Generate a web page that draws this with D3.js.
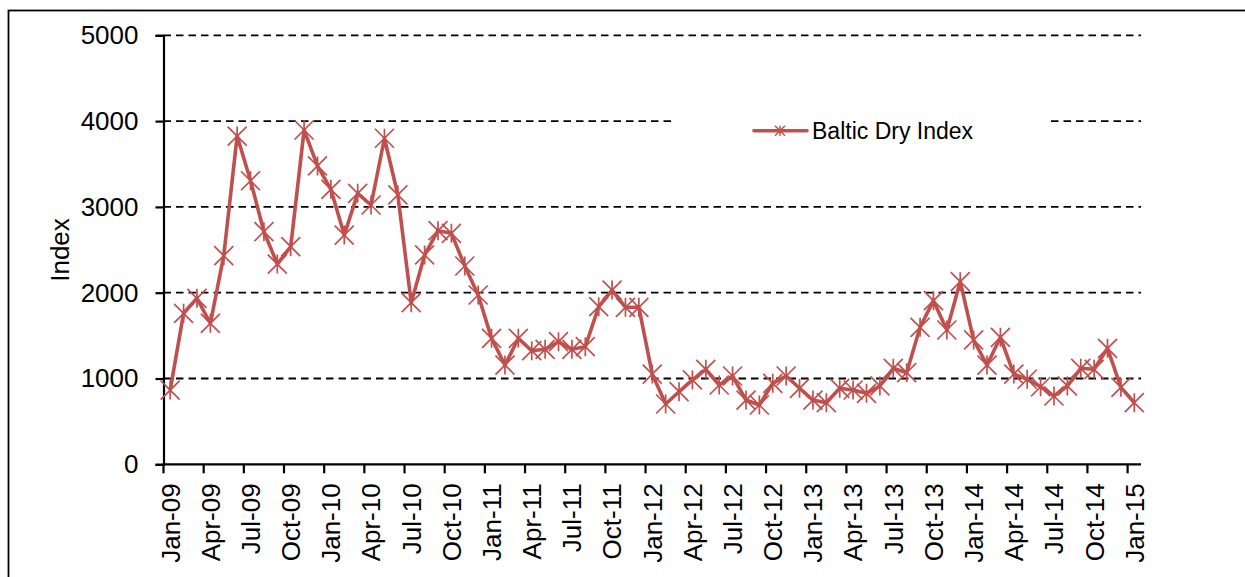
<!DOCTYPE html>
<html>
<head>
<meta charset="utf-8">
<script src="https://cdnjs.cloudflare.com/ajax/libs/d3/7.8.4/d3.min.js"></script>
<style>
  body { margin: 0; background: #fff; }
  svg text { font-family: "Liberation Sans", Arial, sans-serif; fill: #000; }
</style>
</head>
<body>
<div id="chart"></div>
<script>
// monthly Baltic Dry Index, Jan-09 .. Jan-15
const months = [];
const monthNames = ["Jan","Feb","Mar","Apr","May","Jun","Jul","Aug","Sep","Oct","Nov","Dec"];
for (let yr = 9; yr <= 15; yr++) {
  for (let m = 0; m < 12; m++) {
    if (yr === 15 && m > 0) break;
    months.push(monthNames[m] + "-" + String(yr).padStart(2, "0"));
  }
}

const bdi = [
  865, 1760, 1935, 1643, 2431, 3826, 3305, 2711, 2334, 2536, 3896, 3477,
  3205, 2672, 3158, 3022, 3800, 3139, 1884, 2440, 2723, 2692, 2311, 1973,
  1468, 1157, 1468, 1324, 1340, 1429, 1340, 1371, 1837, 2031, 1830, 1830,
  1052, 703, 846, 983, 1107, 924, 1029, 749, 691, 944, 1029, 886,
  749, 718, 886, 866, 827, 913, 1119, 1068, 1597, 1907, 1565, 2128,
  1449, 1157, 1480, 1052, 991, 904, 796, 913, 1119, 1107, 1352, 897,
  718
];

const yTicks = [0, 1000, 2000, 3000, 4000, 5000];
const seriesName = "Baltic Dry Index";
const red = "#C0504D";

const W = 1245, H = 577;
const svg = d3.select("#chart").append("svg")
  .attr("width", W).attr("height", H);

// outer frame (open to the right and bottom, like the crop)
svg.append("rect")
  .attr("x", 8.5).attr("y", 10.5)
  .attr("width", 1400).attr("height", 800)
  .attr("fill", "none").attr("stroke", "#000").attr("stroke-width", 1.8);

const x = d3.scaleBand().domain(months).range([163.5, 1141]).padding(0);
const y = d3.scaleLinear().domain([0, 5000]).range([464.3, 35.3]);
const cx = d => x(d) + x.bandwidth() / 2;

// dashed gridlines
svg.append("g").selectAll("line")
  .data(yTicks.filter(v => v > 0))
  .join("line")
  .attr("x1", 163.5).attr("x2", 1141)
  .attr("y1", d => y(d)).attr("y2", d => y(d))
  .attr("stroke", "#000").attr("stroke-width", 1.8)
  .attr("stroke-dasharray", "7.5,5");

// y axis
const yAxis = svg.append("g")
  .attr("transform", "translate(163.5,0)")
  .call(d3.axisLeft(y).tickValues(yTicks).tickSize(8).tickPadding(17).tickFormat(d3.format("d")));
yAxis.select(".domain").attr("stroke", "#000").attr("stroke-width", 2.2);
yAxis.selectAll(".tick line").attr("stroke", "#000").attr("stroke-width", 2.2);
yAxis.selectAll("text").style("font-size", "26px").style("font-family", "Liberation Sans, Arial, sans-serif");

// x axis: marks at band edges, labels at band centres, every third month
const tickMonths = months.filter((d, i) => i % 3 === 0);
const xg = svg.append("g");
xg.append("line")
  .attr("x1", 162.5).attr("x2", 1141)
  .attr("y1", y(0)).attr("y2", y(0))
  .attr("stroke", "#000").attr("stroke-width", 2.2);
xg.selectAll("line.tk")
  .data(tickMonths)
  .join("line")
  .attr("class", "tk")
  .attr("x1", d => x(d)).attr("x2", d => x(d))
  .attr("y1", y(0)).attr("y2", y(0) + 9)
  .attr("stroke", "#000").attr("stroke-width", 2.2);
xg.selectAll("text")
  .data(tickMonths)
  .join("text")
  .attr("transform", d => `translate(${cx(d)},${y(0) + 19}) rotate(-90)`)
  .attr("text-anchor", "end")
  .attr("dy", "0.36em")
  .style("font-size", "26px")
  .text(d => d);

// y axis title
svg.append("text")
  .attr("transform", "translate(60,250) rotate(-90)")
  .attr("text-anchor", "middle")
  .attr("dy", "0.36em")
  .style("font-size", "26px")
  .text("Index");

// legend box (covers the 4000 gridline)
svg.append("rect")
  .attr("x", 671).attr("y", 112).attr("width", 379).attr("height", 36)
  .attr("fill", "#fff");

const star = (sel, r, sw) => {
  sel.append("path")
    .attr("d", `M${-r},${-r}L${r},${r}M${-r},${r}L${r},${-r}M0,${-r}L0,${r}`)
    .attr("stroke", red).attr("stroke-width", sw).attr("fill", "none");
};

// series line
const line = d3.line()
  .x((d, i) => cx(months[i]))
  .y(d => y(d));
svg.append("path")
  .datum(bdi)
  .attr("d", line)
  .attr("fill", "none")
  .attr("stroke", red)
  .attr("stroke-width", 3.6)
  .attr("stroke-linejoin", "round");

// markers
svg.append("g").selectAll("g")
  .data(bdi)
  .join("g")
  .attr("transform", (d, i) => `translate(${cx(months[i])},${y(d)})`)
  .each(function() { star(d3.select(this), 9.5, 1.7); });

// legend
const lg = svg.append("g");
lg.append("line")
  .attr("x1", 754).attr("x2", 807).attr("y1", 130.7).attr("y2", 130.7)
  .attr("stroke", red).attr("stroke-width", 3.6).attr("stroke-linecap", "round");
lg.append("g").attr("transform", "translate(780,130.7)").call(s => star(s, 5, 1.5));
lg.append("text")
  .attr("x", 812).attr("y", 139)
  .style("font-size", "23px")
  .text(seriesName);
</script>
</body>
</html>
